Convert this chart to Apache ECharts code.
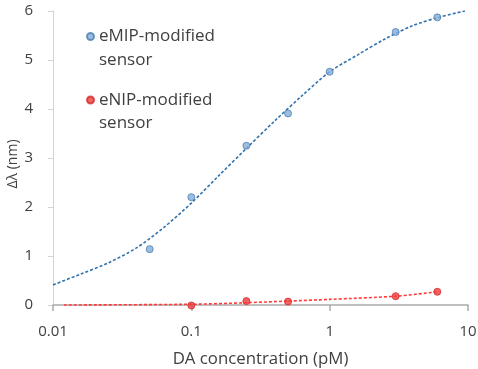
<!DOCTYPE html>
<html>
<head>
<meta charset="utf-8">
<script src="https://cdn.jsdelivr.net/npm/echarts@6/dist/echarts.min.js"></script>
<style>
html,body{margin:0;padding:0;background:#fff;}
#c{width:478px;height:369px;}
</style>
</head>
<body>
<div id="c"></div>
<script>
// Measured data
const xBlue = [0.05, 0.1, 0.25, 0.5, 1, 3, 6];
const yBlue = [1.14, 2.2, 3.25, 3.91, 4.76, 5.57, 5.87];
const xRed = [0.1, 0.25, 0.5, 3, 6];
const yRed = [-0.01, 0.08, 0.07, 0.18, 0.27];
// Fitted curves
const fitBlueX = [0.01, 0.0158, 0.0251, 0.0398, 0.0631, 0.1, 0.158, 0.251, 0.398, 0.631, 1, 1.585, 2.512, 3.981, 6.31, 9.5];
const fitBlueY = [0.41, 0.63, 0.86, 1.16, 1.58, 2.08, 2.64, 3.2, 3.75, 4.27, 4.76, 5.1, 5.43, 5.7, 5.88, 6.0];
const fitRedX = [0.012, 0.1, 0.25, 0.5, 1, 3, 6];
const fitRedY = [0.0, 0.015, 0.047, 0.08, 0.115, 0.18, 0.27];
const xTicks = ['0.01', '0.1', '1', '10'];
const seriesNames = ['eMIP-modified sensor', 'eNIP-modified sensor'];

const pair = (xs, ys) => xs.map((x, i) => [x, ys[i]]);
const font = '"Open Sans", "Noto Sans", sans-serif';
const txt = '#404040';

const chart = echarts.init(document.getElementById('c'), null, {renderer: 'canvas'});
const legendBase = {
  orient: 'vertical', left: 86, padding: 0,
  itemWidth: 7, itemHeight: 7, icon: 'circle',
  formatter: n => '\n' + n.replace(' sensor', '\nsensor'),
  textStyle: {fontFamily: font, fontSize: 17, color: txt, lineHeight: 23.5}
};
chart.setOption({
  animation: false,
  backgroundColor: '#fff',
  legend: [
    Object.assign({}, legendBase, {data: [seriesNames[0]], top: 36.5 - 35.25}),
    Object.assign({}, legendBase, {data: [seriesNames[1]], top: 100 - 35.25})
  ],
  grid: {left: 53, right: 10, top: 11, bottom: 64, containLabel: false, outerBoundsMode: 'none'},
  xAxis: {
    type: 'log', logBase: 10, min: 0.01, max: 10,
    name: 'DA concentration (pM)', nameLocation: 'middle', nameGap: 46,
    nameTextStyle: {fontFamily: font, fontSize: 16.8, color: txt},
    axisLine: {lineStyle: {color: '#ababab', width: 1.5}},
    axisTick: {show: true, length: 6, lineStyle: {color: '#ababab', width: 1.5}},
    minorTick: {show: false},
    splitLine: {show: false},
    axisLabel: {fontFamily: font, fontSize: 15, color: txt, margin: 19,
      formatter: v => { const s = xTicks.find(t => Math.abs(parseFloat(t) - v) / v < 1e-6); return s || ''; }}
  },
  yAxis: {
    type: 'value', min: 0, max: 6, interval: 1,
    name: 'Δλ (nm)', nameLocation: 'middle', nameGap: 33, nameMoveOverlap: false,
    nameTextStyle: {fontFamily: font, fontSize: 14, color: txt, padding: [0, 12, 0, 0]},
    axisLine: {show: true, lineStyle: {color: '#d4d4d4', width: 1}},
    axisTick: {show: true, length: 5, lineStyle: {color: '#d4d4d4'}},
    splitLine: {show: false},
    axisLabel: {fontFamily: font, fontSize: 15, color: txt, margin: 20}
  },
  series: [
    {
      name: 'fitBlue', type: 'line', data: pair(fitBlueX, fitBlueY), smooth: 0.3,
      showSymbol: false, symbol: 'none', silent: true, z: 2,
      lineStyle: {color: '#2f72ad', width: 1.6, type: [3, 2]}
    },
    {
      name: 'fitRed', type: 'line', data: pair(fitRedX, fitRedY), smooth: 0.3,
      showSymbol: false, symbol: 'none', silent: true, z: 2, clip: false,
      lineStyle: {color: '#ff3a3a', width: 1.6, type: [3, 2]}
    },
    {
      name: seriesNames[0], type: 'scatter', data: pair(xBlue, yBlue), symbolSize: 7, z: 3, clip: false,
      itemStyle: {color: '#86acd9', borderColor: '#4a7fb3', borderWidth: 1}
    },
    {
      name: seriesNames[1], type: 'scatter', data: pair(xRed, yRed), symbolSize: 7, z: 3, clip: false,
      itemStyle: {color: '#f03c3c', borderColor: '#d42a2a', borderWidth: 1}
    }
  ]
});
</script>
</body>
</html>
